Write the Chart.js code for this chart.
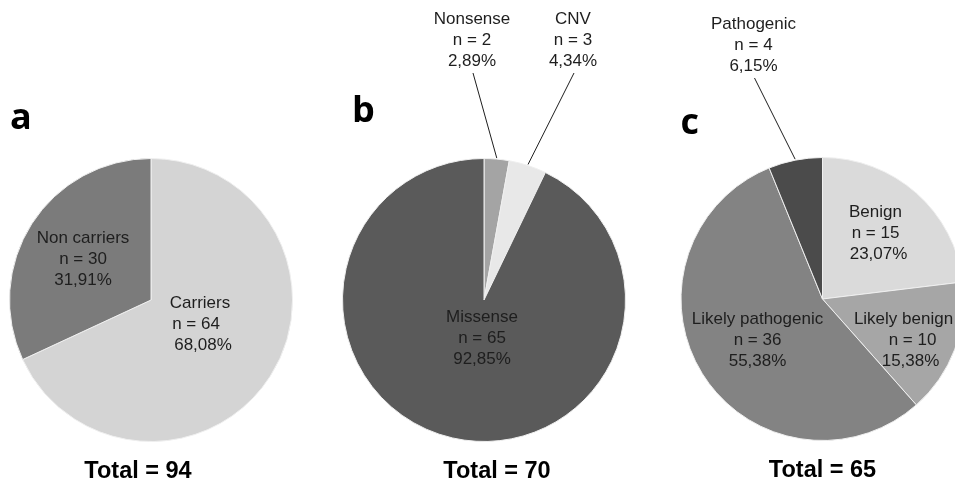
<!DOCTYPE html>
<html>
<head>
<meta charset="utf-8">
<script src="https://cdn.jsdelivr.net/npm/chart.js@4.4.1/dist/chart.umd.min.js"></script>
<style>
  html, body { margin: 0; padding: 0; background: #fff; }
  body { width: 955px; height: 484px; overflow: hidden; position: relative; }
  canvas { position: absolute; top: 0; }
</style>
</head>
<body>
<canvas id="chartA" width="320" height="484" style="left:0px"></canvas>
<canvas id="chartB" width="320" height="484" style="left:320px"></canvas>
<canvas id="chartC" width="330" height="484" style="left:637px"></canvas>
<script>
// a - carrier status
const carrierLabels = ['Carriers', 'Non carriers'];
const carrierCounts = [64, 30];
const carrierPercents = ['68,08%', '31,91%'];

// b - variant type
const variantLabels = ['Nonsense', 'CNV', 'Missense'];
const variantCounts = [2, 3, 65];
const variantPercents = ['2,89%', '4,34%', '92,85%'];

// c - classification
const classLabels = ['Benign', 'Likely benign', 'Likely pathogenic', 'Pathogenic'];
const classCounts = [15, 10, 36, 4];
const classPercents = ['23,07%', '15,38%', '55,38%', '6,15%'];

const totals = [94, 70, 65];
const panelLetters = ['a', 'b', 'c'];

// label placement relative to pie centre (middle text line); outside = leader line
const placeA = [{ dx: 49, dy: 24, nShift: -4, pShift: 3 }, { dx: -68, dy: -41 }];
const placeB = [
  { dx: -12, dy: -260, outside: true },
  { dx: 89, dy: -260, outside: true },
  { dx: -2, dy: 38 }
];
const placeC = [
  { dx: 53, dy: -66, pShift: 3 },
  { dx: 81, dy: 41, nShift: 9, pShift: 7 },
  { dx: -65, dy: 41 },
  { dx: -69, dy: -254, outside: true }
];

const labelFont = '17px "Liberation Sans", Arial, sans-serif';
const lineH = 21;

const pieLabels = {
  id: 'pieLabels',
  afterDatasetsDraw(chart, args, opts) {
    const ctx = chart.ctx;
    const arcs = chart.getDatasetMeta(0).data;
    const cx = arcs[0].x, cy = arcs[0].y, r = arcs[0].outerRadius;
    const names = chart.data.labels;
    const counts = chart.data.datasets[0].data;
    ctx.save();
    ctx.fillStyle = '#1e1e1e';
    ctx.strokeStyle = '#1e1e1e';
    ctx.lineWidth = 1;
    ctx.font = labelFont;
    ctx.textAlign = 'center';
    ctx.textBaseline = 'middle';
    arcs.forEach((arc, i) => {
      const p = opts.place[i];
      const lx = cx + p.dx, ly = cy + p.dy;
      ctx.fillText(names[i], lx, ly - lineH);
      ctx.fillText('n = ' + counts[i], lx + (p.nShift || 0), ly);
      ctx.fillText(opts.percents[i], lx + (p.pShift || 0), ly + lineH);
      if (p.outside) {
        const mid = (arc.startAngle + arc.endAngle) / 2;
        ctx.beginPath();
        ctx.moveTo(lx + 1, ly + lineH + 12);
        ctx.lineTo(cx + Math.cos(mid) * (r + 1), cy + Math.sin(mid) * (r + 1));
        ctx.stroke();
      }
    });
    // panel letter
    ctx.font = 'bold 36px "Open Sans", "DejaVu Sans", sans-serif';
    ctx.fillStyle = '#000';
    ctx.textAlign = 'left';
    ctx.fillText(opts.letter, cx + opts.letterDx, cy + opts.letterDy);
    // total
    ctx.font = 'bold 23.5px "Liberation Sans", Arial, sans-serif';
    ctx.textAlign = 'center';
    ctx.fillText('Total = ' + opts.total, cx + opts.totalDx, cy + 172);
    ctx.restore();
  }
};

function makePie(id, labels, counts, colors, padding, opts) {
  return new Chart(document.getElementById(id), {
    type: 'pie',
    data: {
      labels: labels,
      datasets: [{
        data: counts,
        backgroundColor: colors,
        borderColor: '#efefef',
        borderWidth: 1
      }]
    },
    options: {
      responsive: false,
      animation: false,
      rotation: 0,
      layout: { padding: padding },
      plugins: {
        legend: { display: false },
        tooltip: { enabled: false },
        pieLabels: opts
      }
    },
    plugins: [pieLabels]
  });
}

makePie('chartA', carrierLabels, carrierCounts, ['#d4d4d4', '#7b7b7b'],
  { left: 9, top: 158, right: 27, bottom: 42 },
  { place: placeA, percents: carrierPercents, letter: panelLetters[0], total: totals[0],
    letterDx: -141, letterDy: -181, totalDx: -13 });

makePie('chartB', variantLabels, variantCounts, ['#a4a4a4', '#e8e8e8', '#5a5a5a'],
  { left: 22, top: 158, right: 14, bottom: 42 },
  { place: placeB, percents: variantPercents, letter: panelLetters[1], total: totals[1],
    letterDx: -132, letterDy: -188, totalDx: 13 });

makePie('chartC', classLabels, classCounts, ['#dadada', '#a6a6a6', '#838383', '#4b4b4b'],
  { left: 43, top: 157, right: 2, bottom: 43 },
  { place: placeC, percents: classPercents, letter: panelLetters[2], total: totals[2],
    letterDx: -142, letterDy: -175, totalDx: 0 });
</script>
</body>
</html>
